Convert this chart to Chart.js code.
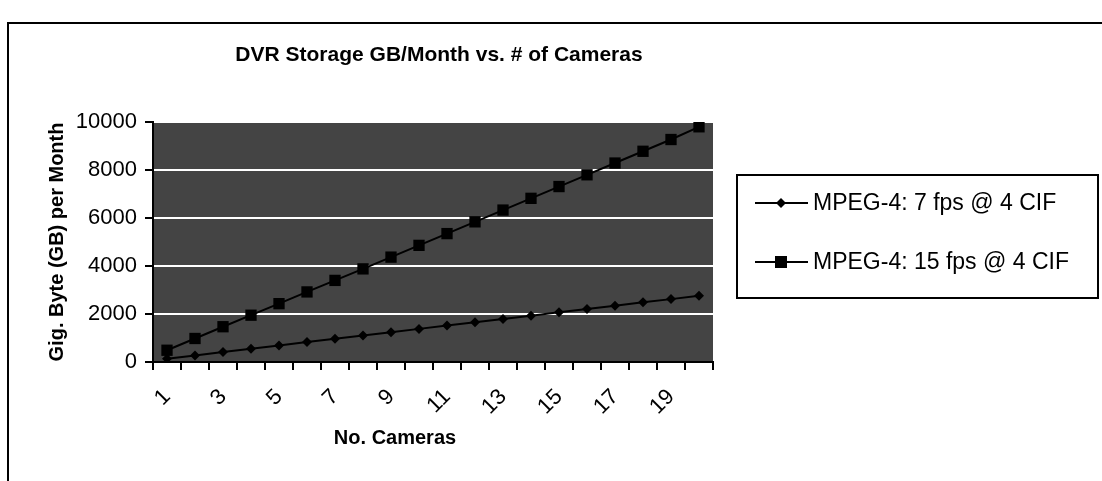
<!DOCTYPE html>
<html>
<head>
<meta charset="utf-8">
<script src="https://cdn.jsdelivr.net/npm/chart.js@4.4.1/dist/chart.umd.min.js"></script>
<style>
    html, body { margin: 0; padding: 0; background: #fff; }
    #wrap { width: 1102px; height: 481px; }
</style>
</head>
<body>
<div id="wrap"><canvas id="chartDvr" width="1102" height="481"></canvas></div>
<script>
// values
const cameras = ['1', '2', '3', '4', '5', '6', '7', '8', '9', '10',
    '11', '12', '13', '14', '15', '16', '17', '18', '19', '20'];
const fps7 = [140, 275, 415, 550, 690, 830, 965, 1100, 1240, 1380,
    1520, 1655, 1795, 1930, 2070, 2210, 2345, 2485, 2620, 2760];
const fps15 = [490, 980, 1470, 1950, 2430, 2920, 3400, 3880, 4370, 4860,
    5350, 5840, 6330, 6820, 7310, 7800, 8290, 8780, 9270, 9800];
const yTicks = [0, 2000, 4000, 6000, 8000, 10000];
const seriesNames = ['MPEG-4: 7 fps @ 4 CIF', 'MPEG-4: 15 fps @ 4 CIF'];
const chartTitle = 'DVR Storage GB/Month vs. # of Cameras';
const xTitle = 'No. Cameras';

const FONT = '"Liberation Sans", Arial, sans-serif';

// frame, dark plot background, titles and boxed legend (Excel look)
const excelLook = {
    id: 'excelLook',
    beforeDraw(chart) {
        const ctx = chart.ctx;
        const a = chart.chartArea;
        ctx.save();
        ctx.fillStyle = '#fff';
        ctx.fillRect(0, 0, chart.width, chart.height);
        ctx.strokeStyle = '#000';
        ctx.lineWidth = 2;
        ctx.beginPath();
        ctx.moveTo(8, chart.height);
        ctx.lineTo(8, 23);
        ctx.lineTo(chart.width, 23);
        ctx.stroke();
        ctx.fillStyle = '#444444';
        ctx.fillRect(a.left, a.top, a.right - a.left, a.bottom - a.top);
        ctx.restore();
    },
    afterDraw(chart) {
        const ctx = chart.ctx;
        ctx.save();
        ctx.fillStyle = '#000';
        ctx.textAlign = 'center';
        ctx.textBaseline = 'middle';
        ctx.font = 'bold 21px ' + FONT;
        ctx.fillText(chartTitle, 439, 55);
        ctx.font = 'bold 20px ' + FONT;
        ctx.fillText(xTitle, 395, 438);

        // legend box
        ctx.strokeStyle = '#000';
        ctx.lineWidth = 2;
        ctx.strokeRect(737, 175, 361, 123);
        const rows = [203, 262];
        chart.data.datasets.forEach((ds, i) => {
            const y = rows[i];
            ctx.lineWidth = 2;
            ctx.beginPath();
            ctx.moveTo(755, y);
            ctx.lineTo(808, y);
            ctx.stroke();
            ctx.fillStyle = '#000';
            if (ds.pointStyle === 'rect') {
                ctx.fillRect(781 - 6, y - 6, 12, 12);
            } else {
                ctx.beginPath();
                ctx.moveTo(781, y - 5);
                ctx.lineTo(786, y);
                ctx.lineTo(781, y + 5);
                ctx.lineTo(776, y);
                ctx.closePath();
                ctx.fill();
            }
            ctx.textAlign = 'left';
            ctx.font = '23px ' + FONT;
            ctx.fillText(ds.label, 813, y + 1);
        });
        ctx.restore();
    }
};

new Chart('chartDvr', {
    type: 'line',
    data: {
        labels: cameras,
        datasets: [{
            label: seriesNames[0],
            data: fps7,
            borderColor: '#000',
            backgroundColor: '#000',
            borderWidth: 2,
            pointStyle: 'rectRot',
            pointRadius: 5,
            pointBorderWidth: 0
        }, {
            label: seriesNames[1],
            data: fps15,
            borderColor: '#000',
            backgroundColor: '#000',
            borderWidth: 2,
            pointStyle: 'rect',
            pointRadius: 8,
            pointBorderWidth: 0
        }]
    },
    options: {
        responsive: false,
        animation: false,
        layout: {
            padding: { left: 10, top: 122, right: 389, bottom: 0 }
        },
        scales: {
            x: {
                offset: true,
                grid: {
                    offset: true,
                    drawOnChartArea: false,
                    color: '#000',
                    tickColor: '#000',
                    tickLength: 8,
                    lineWidth: 2
                },
                border: { color: '#000', width: 2 },
                ticks: {
                    autoSkip: false,
                    minRotation: 45,
                    maxRotation: 45,
                    padding: 14,
                    color: '#000',
                    font: { family: FONT, size: 22 },
                    callback: (value, index) => index % 2 === 0 ? cameras[index] : ''
                },
                afterFit: scale => { scale.height = 119; }
            },
            y: {
                min: 0,
                max: 10000,
                afterBuildTicks: scale => {
                    scale.ticks = yTicks.map(v => ({ value: v }));
                },
                grid: {
                    color: '#ffffff',
                    tickColor: '#000',
                    tickLength: 8,
                    lineWidth: 2
                },
                border: { color: '#000', width: 2 },
                ticks: {
                    padding: 8,
                    color: '#000',
                    font: { family: FONT, size: 22 },
                    callback: value => String(value)
                },
                title: {
                    display: true,
                    text: 'Gig. Byte (GB) per Month',
                    color: '#000',
                    font: { family: FONT, size: 20, weight: 'bold' },
                    padding: { top: 35, bottom: 0 }
                },
                afterFit: scale => { scale.width = 143; }
            }
        },
        plugins: {
            legend: { display: false },
            title: { display: false },
            tooltip: { enabled: false }
        }
    },
    plugins: [excelLook]
});
</script>
</body>
</html>
